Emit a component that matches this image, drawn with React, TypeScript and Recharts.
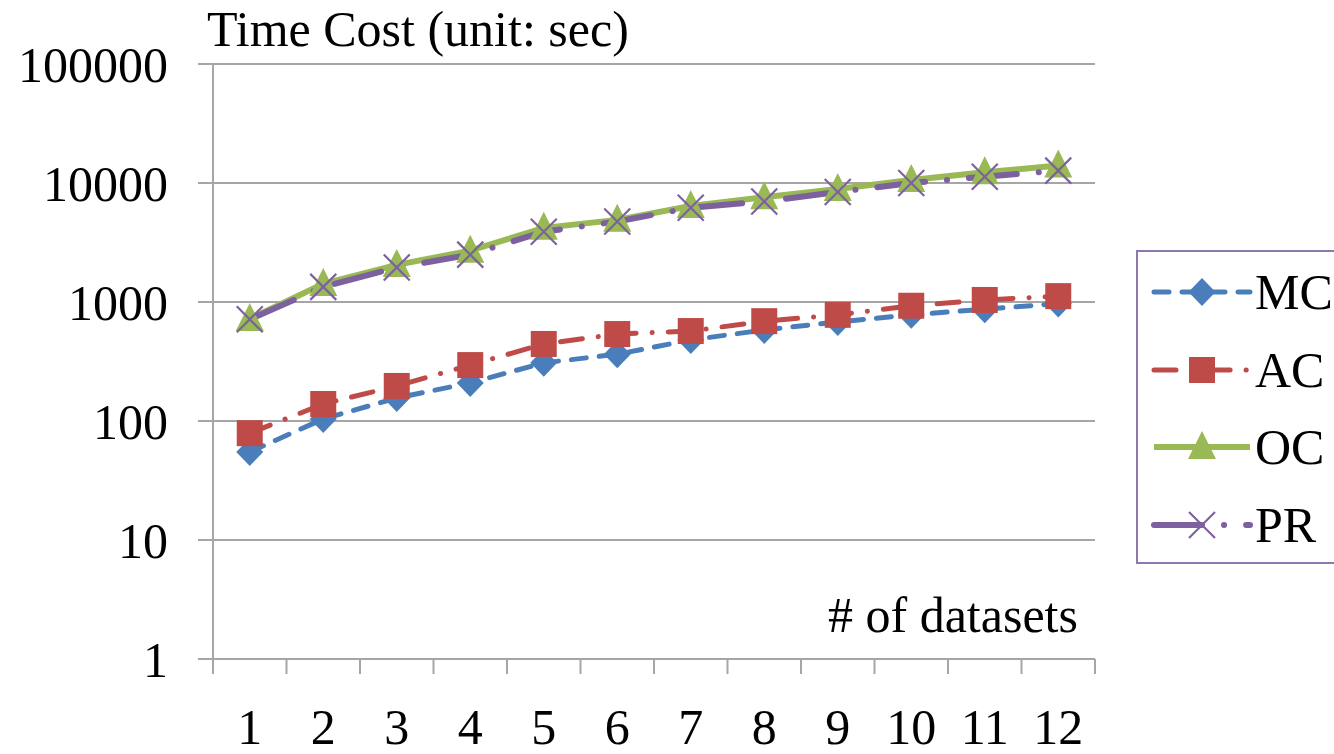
import React from 'react';
import { LineChart, Line, XAxis, YAxis, CartesianGrid } from 'recharts';

const categories = [1, 2, 3, 4, 5, 6, 7, 8, 9, 10, 11, 12];
const mcValues = [55, 104, 156, 209, 308, 364, 480, 582, 680, 780, 870, 970];
const acValues = [79, 139, 197, 295, 444, 538, 570, 690, 780, 930, 1040, 1120];
const ocValues = [720, 1420, 2050, 2700, 4200, 4900, 6400, 7600, 8900, 10600, 12300, 14000];
const prValues = [715, 1340, 1950, 2500, 3900, 4750, 6200, 7000, 8400, 10000, 11300, 12700];
const yTicks = [1, 10, 100, 1000, 10000, 100000];
const xTickPositions = [0.5, 1, 1.5, 2, 2.5, 3, 3.5, 4, 4.5, 5, 5.5, 6, 6.5, 7, 7.5, 8, 8.5, 9, 9.5, 10, 10.5, 11, 11.5, 12, 12.5];
const seriesNames = ['MC', 'AC', 'OC', 'PR'];

const data = categories.map((c, i) => ({
  x: c,
  MC: mcValues[i],
  AC: acValues[i],
  OC: ocValues[i],
  PR: prValues[i],
}));

const FONT = "'Liberation Serif', 'Times New Roman', serif";
const GRID = '#a6a6a6';
const BLUE = '#4a7ebb';
const RED = '#be4b48';
const GREEN = '#98b954';
const PURPLE = '#7d60a0';

const X_TICK_SIZE = 15;
const X_TICK_MARGIN = 41;

const Diamond = ({ cx, cy, fill }: any) => (
  <polygon points={`${cx},${cy - 14} ${cx + 13.5},${cy} ${cx},${cy + 14} ${cx - 13.5},${cy}`} fill={fill} />
);
const Square = ({ cx, cy, fill }: any) => (
  <rect x={cx - 13} y={cy - 13} width={26} height={26} fill={fill} />
);
const Triangle = ({ cx, cy, fill }: any) => (
  <polygon points={`${cx},${cy - 16} ${cx + 14},${cy + 12} ${cx - 14},${cy + 12}`} fill={fill} />
);
const Cross = ({ cx, cy, stroke }: any) => (
  <g stroke={stroke} strokeWidth={2.2} fill="none">
    <line x1={cx - 13} y1={cy - 13} x2={cx + 13} y2={cy + 13} />
    <line x1={cx - 13} y1={cy + 13} x2={cx + 13} y2={cy - 13} />
  </g>
);

const XTick = (props: any) => {
  const { x, y, payload } = props;
  const v = payload.value;
  if (Number.isInteger(v)) {
    return (
      <text x={x} y={y} dy={29} textAnchor="middle" fontFamily={FONT} fontSize={50} fill="#000">
        {String(v)}
      </text>
    );
  }
  return <line x1={x} x2={x} y1={y - X_TICK_MARGIN - X_TICK_SIZE} y2={y - X_TICK_MARGIN} stroke={GRID} strokeWidth={2} />;
};

const legendItems = [
  { name: seriesNames[0], color: BLUE, dash: '15 13', width: 5, marker: 'diamond', cy: 292 },
  { name: seriesNames[1], color: RED, dash: '22 16 0.1 16', width: 5, marker: 'square', cy: 370 },
  { name: seriesNames[2], color: GREEN, dash: undefined, width: 6, marker: 'triangle', cy: 447 },
  { name: seriesNames[3], color: PURPLE, dash: '48 22 0.1 22', width: 6, marker: 'cross', cy: 525 },
];

const renderMarker = (m: string, cx: number, cy: number, color: string) => {
  if (m === 'diamond') return <Diamond cx={cx} cy={cy} fill={color} />;
  if (m === 'square') return <Square cx={cx} cy={cy} fill={color} />;
  if (m === 'triangle') return <Triangle cx={cx} cy={cy} fill={color} />;
  return <Cross cx={cx} cy={cy} stroke={color} />;
};

export default function App() {
  return (
    <div style={{ position: 'absolute', left: 0, top: 0, width: 1334, height: 754, overflow: 'hidden', background: '#fff' }}>
      <LineChart width={1334} height={754} data={data} margin={{ top: 64, right: 239, bottom: 0, left: 0 }}>
        <CartesianGrid vertical={false} stroke={GRID} strokeWidth={2} />
        <XAxis
          dataKey="x"
          type="number"
          domain={[0.5, 12.5]}
          ticks={xTickPositions}
          interval={0}
          height={95}
          tickLine={false}
          tickSize={X_TICK_SIZE}
          tickMargin={X_TICK_MARGIN}
          axisLine={{ stroke: GRID, strokeWidth: 2 }}
          tick={<XTick />}
          allowDataOverflow
        />
        <YAxis
          scale="log"
          domain={[1, 100000]}
          ticks={yTicks}
          interval={0}
          allowDataOverflow
          width={213}
          tickSize={15}
          tickMargin={30}
          tickLine={{ stroke: GRID, strokeWidth: 2 }}
          axisLine={{ stroke: GRID, strokeWidth: 2 }}
          tick={{ fontSize: 50, fontFamily: FONT, fill: '#000' }}
          tickFormatter={(v: number) => String(v)}
        />
        <Line
          dataKey="MC"
          stroke={BLUE}
          strokeWidth={5}
          strokeDasharray="15 13"
          strokeLinecap="round"
          isAnimationActive={false}
          dot={(p: any) => <Diamond key={`mc${p.index}`} cx={p.cx} cy={p.cy} fill={BLUE} />}
        />
        <Line
          dataKey="AC"
          stroke={RED}
          strokeWidth={5}
          strokeDasharray="22 16 0.1 16"
          strokeLinecap="round"
          isAnimationActive={false}
          dot={(p: any) => <Square key={`ac${p.index}`} cx={p.cx} cy={p.cy} fill={RED} />}
        />
        <Line
          dataKey="OC"
          stroke={GREEN}
          strokeWidth={6}
          isAnimationActive={false}
          dot={(p: any) => <Triangle key={`oc${p.index}`} cx={p.cx} cy={p.cy} fill={GREEN} />}
        />
        <Line
          dataKey="PR"
          stroke={PURPLE}
          strokeWidth={6}
          strokeDasharray="48 22 0.1 22"
          strokeLinecap="round"
          isAnimationActive={false}
          dot={(p: any) => <Cross key={`pr${p.index}`} cx={p.cx} cy={p.cy} stroke={PURPLE} />}
        />
      </LineChart>
      <svg width={1334} height={754} style={{ position: 'absolute', left: 0, top: 0, pointerEvents: 'none' }}>
        <text x={207} y={46} fontFamily={FONT} fontSize={50} fill="#000">Time Cost (unit: sec)</text>
        <text x={828} y={632} fontFamily={FONT} fontSize={50} fill="#000"># of datasets</text>
        <rect x={1137} y={251} width={220} height={312} fill="#fff" stroke="#8d78ae" strokeWidth={2} />
        {legendItems.map((it) => (
          <g key={it.name}>
            <line
              x1={1154}
              x2={1250}
              y1={it.cy}
              y2={it.cy}
              stroke={it.color}
              strokeWidth={it.width}
              strokeDasharray={it.dash}
              strokeLinecap={it.dash ? 'round' : 'butt'}
            />
            {renderMarker(it.marker, 1202, it.cy, it.color)}
            <text x={1255} y={it.cy + 17} fontFamily={FONT} fontSize={50} fill="#000">{it.name}</text>
          </g>
        ))}
      </svg>
    </div>
  );
}
